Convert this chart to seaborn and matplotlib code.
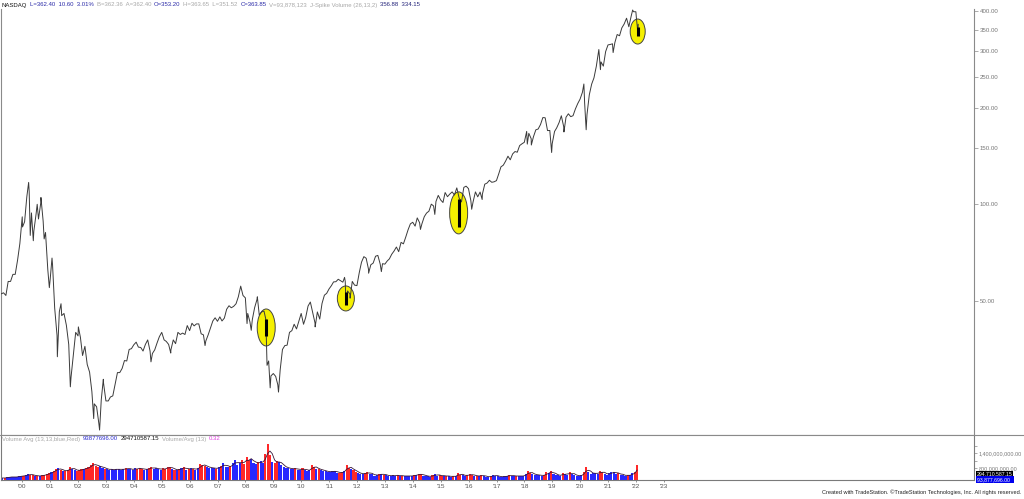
import pandas as pd
import seaborn as sns
import matplotlib.pyplot as plt
import matplotlib.dates as mdates
from matplotlib.patches import Ellipse
from matplotlib.transforms import ScaledTranslation
from matplotlib.lines import Line2D
from matplotlib.ticker import NullLocator, FixedLocator

# ---- data (QQQ weekly, shown here as month-end closes + swing points)
month_ends = pd.date_range('1999-03-31', '2022-01-31', freq='ME')
monthly_close = [
    52.6, 53.0, 52.0, 57.5, 57.5, 60.5, 60.5, 67.0, 75.5, 91.4,
    88.2, 105.5, 109.5, 94.0, 82.5, 93.5, 90.0, 101.5, 88.6, 81.7, 62.5, 58.4,
    64.8, 47.5, 39.0, 46.3, 45.0, 45.7, 42.0, 36.6, 28.9, 34.1, 39.9, 38.9,
    38.5, 33.8, 36.1, 31.7, 30.0, 26.1, 23.9, 23.4, 20.7, 24.6, 27.7, 24.4,
    24.4, 25.1, 25.3, 27.5, 29.9, 29.9, 30.8, 32.6, 32.5, 35.3, 35.5, 36.5,
    37.2, 35.9, 35.8, 34.9, 36.6, 37.8, 34.9, 34.3, 35.2, 37.0, 38.7, 39.9,
    37.8, 37.4, 36.6, 35.2, 37.8, 36.8, 39.9, 39.3, 39.7, 39.3, 41.9, 40.4,
    42.6, 41.8, 42.4, 42.4, 39.5, 39.2, 37.5, 39.2, 41.2, 43.3, 44.3, 43.2,
    44.6, 43.3, 44.2, 47.1, 48.3, 47.6, 48.1, 49.0, 51.5, 55.6, 52.0, 51.1,
    45.7, 43.0, 43.7, 47.6, 50.5, 45.2, 46.2, 46.5, 38.9, 32.5, 29.2, 29.7,
    29.1, 27.4, 30.5, 35.3, 36.3, 36.4, 39.9, 40.4, 42.3, 40.9, 43.2, 45.7,
    42.3, 44.4, 48.2, 49.6, 46.0, 42.7, 46.2, 43.9, 49.1, 52.1, 52.8, 54.5,
    55.8, 57.3, 57.4, 58.4, 57.8, 57.2, 57.5, 53.7, 52.5, 57.5, 56.0, 55.8,
    61.3, 66.0, 68.7, 67.9, 62.7, 64.8, 65.6, 68.9, 69.3, 65.1, 65.3, 65.1,
    66.6, 67.6, 69.9, 71.5, 73.6, 71.2, 76.1, 75.3, 79.0, 83.3, 86.9, 87.9,
    85.5, 90.7, 87.6, 86.9, 91.5, 93.9, 95.2, 100.1, 98.8, 102.0, 106.6, 103.2,
    101.3, 108.8, 105.6, 107.6, 109.3, 106.9, 112.5, 104.5, 101.7, 112.9, 113.9, 111.9,
    102.6, 101.7, 109.3, 105.5, 109.2, 107.5, 115.5, 116.5, 118.8, 117.1, 117.5, 118.5,
    124.6, 130.8, 132.4, 136.3, 141.2, 137.6, 143.5, 146.0, 145.3, 152.4, 154.3, 156.0,
    168.7, 166.4, 160.1, 162.4, 170.6, 171.6, 177.2, 186.3, 186.0, 169.7, 169.8, 154.3,
    168.6, 173.0, 179.6, 188.7, 174.4, 186.7, 191.4, 187.5, 188.8, 198.1, 205.8, 212.6,
    223.3, 207.0, 190.4, 219.2, 236.8, 247.6, 269.0, 300.1, 277.8, 269.4, 299.0, 313.7,
    314.8, 316.2, 319.1, 338.0, 335.0, 354.4, 364.6, 380.0, 357.3, 386.1, 398.1, 397.9,
    363.85,
]

swing_dates = [
    '2000-01-04', '2000-03-24', '2000-04-14', '2000-05-24', '2000-07-14', '2000-09-01',
    '2000-10-13', '2000-12-20', '2001-01-24', '2001-04-04', '2001-05-22', '2001-09-21',
    '2002-01-04', '2002-07-24', '2002-10-09', '2002-11-27', '2004-08-12', '2005-04-28',
    '2006-07-21', '2008-01-22', '2008-03-17', '2008-06-05', '2008-09-26', '2008-10-10',
    '2008-11-20', '2009-03-09', '2010-07-02', '2011-07-22', '2011-08-08', '2011-10-03',
    '2012-06-01', '2012-11-15', '2014-04-11', '2014-10-16', '2016-02-11', '2016-06-27',
    '2018-02-08', '2018-04-02', '2018-12-24', '2019-06-03', '2020-02-19', '2020-03-20',
    '2020-09-02', '2020-09-23', '2021-03-08', '2021-11-19', '2022-01-07', '2022-01-27',
]
swing_close = [
    85.0, 117.0, 80.0, 77.0, 100.0, 105.0,
    78.0, 55.0, 68.0, 33.5, 49.0, 27.0,
    41.5, 21.5, 19.8, 28.5, 32.3, 34.4,
    36.3, 42.5, 40.5, 51.5, 43.6, 31.5,
    26.8, 26.0, 41.5, 59.2, 50.0, 51.0,
    61.0, 61.7, 83.5, 93.0, 96.5, 103.5,
    154.0, 153.0, 145.0, 168.0, 237.0, 170.7,
    303.5, 262.7, 297.0, 403.0, 380.0, 342.0,
]

# average weekly volume per month, millions of shares
monthly_volume_m = [
    400, 400, 400, 440, 440, 440, 440, 440, 480, 480,
    480, 520, 560, 520, 520, 480, 480, 480, 520, 520, 560, 600,
    640, 680, 760, 800, 720, 680, 680, 720, 840, 760, 720, 680,
    720, 760, 760, 800, 840, 920, 1000, 880, 840, 880, 800, 760,
    760, 720, 760, 720, 760, 760, 720, 760, 800, 760, 760, 720,
    800, 760, 800, 760, 720, 760, 800, 840, 760, 800, 760, 720,
    800, 760, 840, 840, 760, 720, 720, 760, 800, 840, 720, 760,
    800, 760, 720, 800, 960, 920, 880, 840, 800, 800, 800, 760,
    840, 880, 1000, 840, 840, 880, 1000, 1120, 920, 1000, 1120, 960,
    1240, 1120, 1160, 1000, 960, 1040, 1080, 1000, 1360, 1760, 1320, 1040,
    1000, 1080, 1040, 920, 840, 800, 800, 760, 760, 800, 720, 720,
    800, 720, 680, 720, 920, 840, 760, 760, 720, 680, 680, 640,
    640, 680, 680, 600, 600, 640, 680, 920, 800, 760, 720, 640,
    600, 560, 560, 600, 640, 560, 560, 480, 520, 560, 560, 520,
    520, 480, 480, 520, 480, 520, 480, 480, 480, 480, 480, 480,
    520, 520, 560, 560, 480, 480, 480, 440, 520, 560, 480, 520,
    480, 480, 480, 480, 440, 480, 480, 600, 520, 520, 480, 520,
    560, 520, 480, 480, 480, 520, 480, 440, 440, 480, 520, 480,
    480, 440, 440, 480, 480, 520, 480, 480, 480, 480, 480, 480,
    560, 680, 600, 560, 520, 520, 520, 480, 520, 640, 600, 680,
    560, 520, 520, 480, 600, 560, 520, 640, 560, 520, 480, 480,
    520, 640, 840, 640, 560, 600, 600, 560, 680, 640, 560, 520,
    600, 640, 640, 560, 600, 520, 520, 480, 520, 520, 600, 640,
    920,
]

# J-Spike bars that are ringed on the chart
spike_dates = ['2008-09-29', '2011-08-08', '2015-08-24', '2022-01-24']
spike_low = [38.9, 48.6, 85.0, 334.15]
spike_high = [43.9, 53.3, 104.0, 356.88]

price_ticks = [50, 100, 150, 200, 250, 300, 350, 400]
volume_ticks = [1.4e9, 8.0e8]
volume_minor = [1.7e9, 1.1e9]
year_ticks = list(range(2000, 2024))

header_parts = [
    ('NASDAQ', '#111111'),
    ('L=362.40  10.60  3.01%', '#2a2aa8'),
    ('B=362.36  A=362.40', '#a8a8a8'),
    ('O=353.20', '#2a2aa8'),
    ('H=363.65  L=351.52', '#a8a8a8'),
    ('C=363.85', '#2a2aa8'),
    ('V=93,878,123  J-Spike Volume (26,13,2)', '#a8a8a8'),
    ('356.88  334.15', '#24247a'),
]
volume_header = [
    ('Volume Avg (13,13,blue,Red)', '#a8a8a8'),
    ('93877696.00', '#2a2ad0'),
    ('294710587.15', '#111111'),
    ('Volume/Avg (13)', '#a8a8a8'),
    ('0.32', '#e040e0'),
]

# ---- frames
price = pd.concat([
    pd.DataFrame({'date': month_ends, 'close': monthly_close}),
    pd.DataFrame({'date': pd.to_datetime(swing_dates), 'close': swing_close}),
]).sort_values('date').reset_index(drop=True)

vol = pd.DataFrame({'date': month_ends, 'close': monthly_close,
                    'volume': [v * 1e6 for v in monthly_volume_m]})
vol['up'] = vol['close'].diff().fillna(1) >= 0
vol['avg'] = vol['volume'].rolling(3, min_periods=1).mean()
vol['mid'] = vol['date'] - pd.Timedelta(days=14)

# ---- figure
sns.set_theme(style='white')
plt.rcParams['font.family'] = ['Liberation Sans', 'DejaVu Sans']

fig = plt.figure(figsize=(10.24, 4.99), dpi=100)
W, H = 1024, 499
ax = fig.add_axes([1 / W, (H - 435) / H, 973 / W, 426 / H])
axv = fig.add_axes([1 / W, (H - 480) / H, 973 / W, 45 / H], sharex=ax)

sns.lineplot(data=price, x='date', y='close', ax=ax, color='#3a3a3a', lw=0.7, zorder=3)
ax.set_yscale('log')
ax.set_ylim(19.11, 405.9)
ax.set_xlim(pd.Timestamp('1999-03-28'), pd.Timestamp('2034-02-14'))

# rings + spike bars
ring_px = [(18, 37), (17, 25), (18, 42), (15, 25)]
for d, lo, hi, (w, h) in zip(spike_dates, spike_low, spike_high, ring_px):
    xn = mdates.date2num(pd.Timestamp(d))
    yc = (lo * hi) ** 0.5
    tr = fig.dpi_scale_trans + ScaledTranslation(xn, yc, ax.transData)
    ax.add_patch(Ellipse((0, 0), w / 100, h / 100, transform=tr,
                         facecolor='#f5f000', edgecolor='#444444', lw=0.7, zorder=2))
ax.vlines(pd.to_datetime(spike_dates), spike_low, spike_high, color='black', lw=2.2, zorder=4)

ax.yaxis.tick_right()
ax.yaxis.set_major_locator(FixedLocator(price_ticks))
ax.yaxis.set_minor_locator(NullLocator())
ax.set_yticklabels([f'{t:.2f}' for t in price_ticks])
ax.tick_params(axis='y', which='major', right=True, length=3, width=0.5, color='#888888',
               labelsize=4.4, labelcolor='#777777', pad=1)
ax.tick_params(axis='x', bottom=False, labelbottom=False)
ax.set_xlabel('')
ax.set_ylabel('')
for s in ['left', 'right', 'bottom']:
    ax.spines[s].set_color('#8a8a8a')
    ax.spines[s].set_linewidth(0.8)
ax.spines['top'].set_visible(False)

# volume panel
colors = ['#1010ff' if u else '#ff1010' for u in vol['up']]
axv.bar(vol['mid'], vol['volume'], width=27, color=colors, linewidth=0, alpha=0.9)
sns.lineplot(x=vol['mid'], y=vol['avg'], ax=axv, color='#3a1838', lw=0.6)
axv.set_ylim(3.2e8, 2.12e9)
axv.yaxis.tick_right()
axv.yaxis.set_major_locator(FixedLocator(volume_ticks))
axv.yaxis.set_minor_locator(FixedLocator(volume_minor))
axv.set_yticklabels([f'{t:,.2f}' for t in volume_ticks])
axv.tick_params(axis='y', which='both', right=True, length=2.5, width=0.5, color='#888888',
                labelsize=3.9, labelcolor='#777777', pad=0.8)
axv.set_xticks([pd.Timestamp(f'{y}-01-01') for y in year_ticks])
axv.set_xticklabels([f"'{y % 100:02d}" for y in year_ticks])
axv.tick_params(axis='x', bottom=True, length=1.5, width=0.5, color='#666666',
                labelsize=4.6, labelcolor='#555555', pad=1.2)
axv.set_xlabel('')
axv.set_ylabel('')
for s in ['left', 'right', 'bottom']:
    axv.spines[s].set_color('#7a7a7a')
    axv.spines[s].set_linewidth(0.8)
axv.spines['top'].set_visible(False)

# separator across the full width
fig.add_artist(Line2D([0, 1], [(H - 435) / H] * 2, color='#8a8a8a', lw=0.8))

# last-value boxes on volume axis
axv.text(1.003, 0.13, '294,710,587.15', transform=axv.transAxes, fontsize=3.7, color='white',
         va='center', ha='left', bbox=dict(boxstyle='square,pad=0.15', fc='black', ec='none'))
axv.text(1.003, 0.01, '93,877,696.00  ', transform=axv.transAxes, fontsize=3.7, color='white',
         va='center', ha='left', bbox=dict(boxstyle='square,pad=0.2', fc='#0000ee', ec='none'))


def chain(target, parts, x, y, size):
    prev = target.text(x, y, parts[0][0], color=parts[0][1], fontsize=size,
                       va='center', ha='left', transform=fig.transFigure)
    for txt, c in parts[1:]:
        prev = target.annotate(txt, xy=(1, 0), xycoords=prev, xytext=(2.0, 0),
                               textcoords='offset points', color=c, fontsize=size,
                               va='bottom', ha='left', annotation_clip=False)


chain(ax, header_parts, 2 / W, 1 - 5 / H, 4.3)
chain(axv, volume_header, 2 / W, 1 - 439 / H, 4.3)

fig.text(1 - 3 / W, 1 - 492 / H,
         'Created with TradeStation. \u00a9TradeStation Technologies, Inc. All rights reserved.',
         fontsize=4.1, color='#222222', ha='right', va='center')

fig.savefig('out.png', dpi=100)
